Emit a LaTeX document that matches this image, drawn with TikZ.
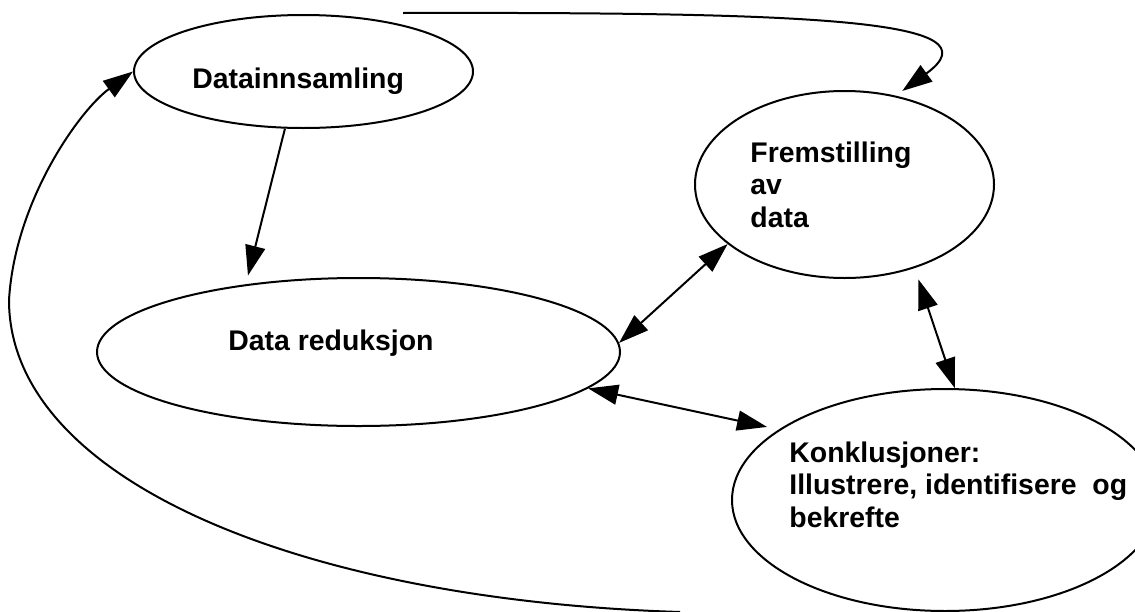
\documentclass[tikz,border=0pt]{standalone}
\usepackage{fontspec}
\setmainfont{Liberation Sans}
\usetikzlibrary{shapes.geometric}
\usetikzlibrary{arrows.meta}

\begin{document}
\begin{tikzpicture}[x=0.5pt, y=-0.5pt, >={Triangle[length=15pt, width=10pt]},
    blob/.style={draw, ellipse, line width=1pt, inner sep=0pt},
    word/.style={font=\fontsize{14.2}{16.2}\selectfont\bfseries, anchor=base west, align=left, inner sep=0pt},
    link/.style={line width=1pt}]
    \path [use as bounding box, clip] (0,0) rectangle (1135,611);
    \node [blob, minimum width=169.5pt, minimum height=56.5pt] (samle) at (303.5,71.5) {};
    \node [blob, minimum width=261.5pt, minimum height=74pt] (reduk) at (358.5,352) {};
    \node [blob, minimum width=149.5pt, minimum height=93.5pt] (frem) at (844.5,184.5) {};
    \node [blob, minimum width=213pt, minimum height=111pt] (konkl) at (945,500) {};
    % base anchor sits on the last line
    \node [word] (samletxt) at (192,88) {Datainnsamling};
    \node [word] (reduktxt) at (228,350) {Data reduksjon};
    \node [word] (fremtxt) at (750,227) {Fremstilling\\av\\data};
    \node [word] (konkltxt) at (789,527) {Konklusjoner:\\Illustrere, identifisere~ og\\bekrefte};
    \coordinate (topstart) at (403,13);
    \coordinate (bunnstart) at (680,612);
    \draw [link, ->, shorten >=4.5pt] (samle.252) -- (reduk.149);
    \draw [link, <->] (reduk.2) -- (frem.207);
    \draw [link, <->, shorten <=6pt] (frem.310) -- (konkl.85);
    \draw [link, <->, shorten >=6pt] (reduk.351) -- (konkl.157);
    \draw [link, ->, shorten >=4pt] (topstart) .. controls (820,12) and (1000,20) .. (frem.60);
    \draw [link, ->] (bunnstart) .. controls (300,600) and (9,480) .. (9,300) .. controls (15,200) and (80,110) .. (samle.west);
\end{tikzpicture}
\end{document}
